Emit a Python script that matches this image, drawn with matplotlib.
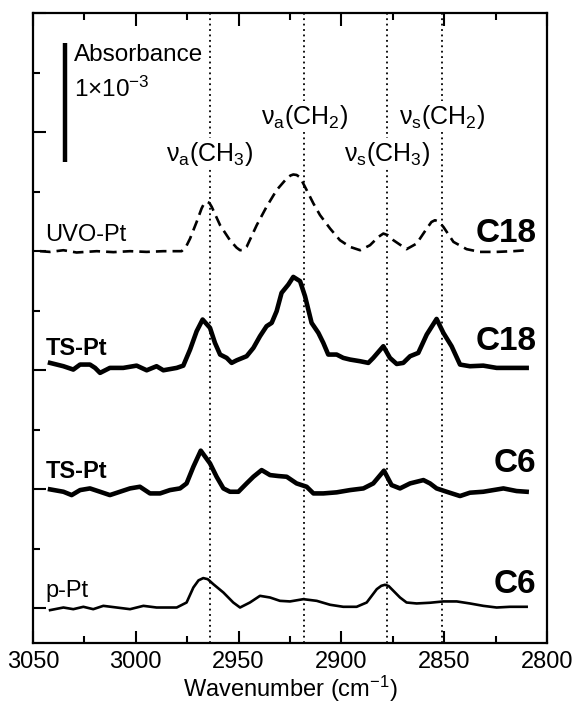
import matplotlib
matplotlib.use("Agg")
import matplotlib.pyplot as plt
from matplotlib.ticker import MultipleLocator

plt.rcParams["font.family"] = ["Liberation Sans", "DejaVu Sans"]
plt.rcParams["mathtext.fontset"] = "custom"
plt.rcParams["mathtext.rm"] = "Liberation Sans"
plt.rcParams["mathtext.it"] = "Liberation Sans:italic"
plt.rcParams["mathtext.bf"] = "Liberation Sans:bold"

# absorbance in units of 1e-3
uvo_wn = [3046.6, 3041.7, 3035.2, 3028.8, 3019.0, 3010.9, 3002.8, 2994.7, 2986.6, 2977.7,
          2975.5, 2973.6, 2970.4, 2968.0, 2966.8, 2965.5, 2964.2, 2963.1, 2959.0, 2954.2,
          2951.0, 2949.3, 2947.5, 2946.1, 2941.2, 2936.4, 2931.5, 2926.6, 2924.8, 2923.4,
          2921.8, 2920.1, 2916.9, 2913.6, 2910.4, 2905.5, 2900.7, 2895.8, 2890.9, 2886.1,
          2882.0, 2879.6, 2877.5, 2874.7, 2868.3, 2863.4, 2858.5, 2856.2, 2854.5, 2852.6,
          2850.4, 2845.5, 2839.1, 2832.6, 2824.5, 2816.4, 2809.9]
uvo_abs = [0.0, -0.006, 0.008, -0.011, 0.0, -0.008, 0.0, -0.006, 0.0, 0.0,
           0.040, 0.106, 0.246, 0.359, 0.400, 0.415, 0.405, 0.373, 0.218, 0.092,
           0.030, 0.008, 0.012, 0.036, 0.218, 0.373, 0.513, 0.611, 0.635, 0.644,
           0.640, 0.620, 0.513, 0.400, 0.303, 0.190, 0.092, 0.036, 0.008, 0.050,
           0.120, 0.148, 0.135, 0.092, 0.017, 0.064, 0.190, 0.245, 0.260, 0.248,
           0.204, 0.078, 0.017, -0.006, -0.006, 0.0, 0.008]

ts18_wn = [3041.7, 3035.2, 3030.4, 3027.1, 3022.3, 3019.8, 3017.4, 3012.6, 3006.1, 2999.6,
           2994.7, 2989.9, 2986.6, 2980.1, 2976.9, 2973.6, 2970.4, 2967.5, 2963.9, 2961.5,
           2959.0, 2955.8, 2953.4, 2950.9, 2946.1, 2942.8, 2939.6, 2936.4, 2933.9, 2931.5,
           2929.1, 2925.8, 2923.4, 2920.1, 2917.7, 2914.5, 2911.2, 2908.8, 2906.4, 2902.3,
           2899.1, 2895.8, 2890.9, 2886.9, 2884.5, 2879.6, 2876.4, 2873.1, 2869.9, 2866.6,
           2862.6, 2858.5, 2853.7, 2850.4, 2846.4, 2842.3, 2837.5, 2831.0, 2824.5, 2818.0,
           2809.9]
ts18_abs = [0.062, 0.034, 0.006, 0.048, 0.048, 0.020, -0.022, 0.020, 0.020, 0.039,
            0.0, 0.034, 0.0, 0.020, 0.039, 0.174, 0.328, 0.426, 0.356, 0.230,
            0.132, 0.104, 0.062, 0.084, 0.118, 0.188, 0.286, 0.370, 0.398, 0.496,
            0.650, 0.720, 0.784, 0.748, 0.622, 0.398, 0.314, 0.230, 0.132, 0.132,
            0.104, 0.090, 0.076, 0.062, 0.104, 0.202, 0.104, 0.053, 0.062, 0.118,
            0.146, 0.300, 0.431, 0.314, 0.202, 0.048, 0.034, 0.039, 0.020, 0.020,
            0.020]

ts6_wn = [3041.7, 3035.2, 3031.2, 3027.1, 3022.3, 3017.4, 3012.6, 3007.7, 3002.8, 2998.0,
          2993.1, 2988.2, 2983.4, 2978.5, 2975.3, 2972.0, 2968.4, 2963.9, 2960.7, 2957.4,
          2954.2, 2950.1, 2946.1, 2942.8, 2938.8, 2934.7, 2930.7, 2926.6, 2921.8, 2916.9,
          2913.6, 2908.8, 2902.3, 2895.8, 2889.3, 2884.5, 2879.3, 2875.6, 2871.5, 2866.6,
          2860.1, 2856.9, 2853.7, 2848.8, 2842.3, 2837.5, 2831.0, 2821.2, 2814.8, 2809.9]
ts6_abs = [0.0, -0.020, -0.048, -0.006, 0.008, -0.020, -0.048, -0.020, 0.008, 0.022,
           -0.034, -0.034, -0.006, 0.008, 0.050, 0.190, 0.325, 0.218, 0.106, 0.008,
           -0.020, -0.020, 0.050, 0.106, 0.162, 0.120, 0.112, 0.106, 0.050, 0.022,
           -0.034, -0.034, -0.025, -0.006, 0.008, 0.050, 0.157, 0.036, 0.008, 0.050,
           0.078, 0.050, 0.008, -0.020, -0.056, -0.028, -0.020, 0.008, -0.014, -0.020]

ppt_wn = [3041.7, 3035.2, 3030.4, 3025.5, 3020.7, 3015.8, 3009.3, 3002.8, 2996.3, 2989.9,
          2980.1, 2975.3, 2972.0, 2969.5, 2967.2, 2965.0, 2962.3, 2957.4, 2952.6, 2949.3,
          2944.5, 2939.6, 2934.7, 2929.9, 2925.0, 2918.5, 2912.0, 2905.5, 2899.1, 2892.6,
          2887.7, 2882.8, 2880.6, 2878.8, 2877.0, 2874.7, 2871.5, 2868.3, 2863.4, 2856.9,
          2850.4, 2843.9, 2837.5, 2831.0, 2824.5, 2818.0, 2809.9]
ppt_abs = [-0.014, 0.008, -0.006, 0.014, -0.006, 0.022, 0.008, -0.006, 0.022, 0.008,
           0.008, 0.050, 0.176, 0.236, 0.255, 0.246, 0.204, 0.134, 0.050, 0.008,
           0.050, 0.106, 0.092, 0.064, 0.059, 0.078, 0.064, 0.031, 0.014, 0.014,
           0.050, 0.162, 0.190, 0.199, 0.188, 0.148, 0.092, 0.050, 0.042, 0.048,
           0.059, 0.059, 0.042, 0.022, 0.008, 0.014, 0.014]

offsets = [3.0, 2.0, 1.0, 0.0]
left_labels = ["UVO-Pt", "TS-Pt", "TS-Pt", "p-Pt"]
right_labels = ["C18", "C18", "C6", "C6"]
peak_pos = [2964, 2918, 2878, 2851]
peak_names = [r"ν$_\mathrm{a}$(CH$_3$)", r"ν$_\mathrm{a}$(CH$_2$)",
              r"ν$_\mathrm{s}$(CH$_3$)", r"ν$_\mathrm{s}$(CH$_2$)"]
peak_label_y = [3.82, 4.13, 3.82, 4.13]

fig = plt.figure(figsize=(5.76, 7.06), dpi=100)
ax = fig.add_axes([33 / 576, 1 - 643 / 706, 514 / 576, 630 / 706])

for x in peak_pos:
    ax.axvline(x, color="black", lw=1.3, ls=(0, (1, 2)), zorder=1)

ax.plot(uvo_wn, [v + offsets[0] for v in uvo_abs], color="black", lw=1.9,
        ls=(0, (4, 2.3)), zorder=3)
ax.plot(ts18_wn, [v + offsets[1] for v in ts18_abs], color="black", lw=3.3,
        solid_joinstyle="round", zorder=3)
ax.plot(ts6_wn, [v + offsets[2] for v in ts6_abs], color="black", lw=3.3,
        solid_joinstyle="round", zorder=3)
ax.plot(ppt_wn, [v + offsets[3] for v in ppt_abs], color="black", lw=1.9,
        solid_joinstyle="round", zorder=3)

left_dy = [0.14, 0.18, 0.15, 0.15]
right_dy = [0.15, 0.24, 0.22, 0.20]
for i in range(4):
    w = "bold" if left_labels[i] == "TS-Pt" else "normal"
    ax.text(3044, offsets[i] + left_dy[i], left_labels[i], fontsize=17, fontweight=w,
            ha="left", va="center")
    ax.text(2805, offsets[i] + right_dy[i], right_labels[i], fontsize=24,
            fontweight="bold", ha="right", va="center")

for x, name, y in zip(peak_pos, peak_names, peak_label_y):
    ax.text(x, y, name, fontsize=18, ha="center", va="center", zorder=2,
            bbox=dict(facecolor="white", edgecolor="none", pad=1))

# scale bar 1e-3
ax.plot([3034.5, 3034.5], [3.75, 4.75], color="black", lw=3.2, solid_capstyle="butt")
ax.text(3030, 4.65, "Absorbance", fontsize=17.5, ha="left", va="center",
        bbox=dict(facecolor="white", edgecolor="none", pad=0.5))
ax.text(3030, 4.36, r"1×10$^{-3}$", fontsize=17.5, ha="left", va="center")

ax.set_xlim(3050, 2800)
ax.set_ylim(-0.29, 5.0)
ax.xaxis.set_major_locator(MultipleLocator(50))
ax.xaxis.set_minor_locator(MultipleLocator(25))
ax.yaxis.set_major_locator(MultipleLocator(1.0))
ax.yaxis.set_minor_locator(MultipleLocator(0.5))
ax.tick_params(axis="x", which="both", direction="in", top=True, bottom=True,
               labelsize=17, width=1.5, pad=6)
ax.tick_params(axis="x", which="major", length=9)
ax.tick_params(axis="x", which="minor", length=5)
ax.tick_params(axis="y", which="both", direction="in", left=True, right=False,
               labelleft=False, width=1.5)
ax.tick_params(axis="y", which="major", length=9)
ax.tick_params(axis="y", which="minor", length=5)
for sp in ax.spines.values():
    sp.set_linewidth(1.6)

ax.set_xlabel("Wavenumber (cm$^{-1}$)", fontsize=17, labelpad=0.5)

fig.savefig("out.png", dpi=100)
